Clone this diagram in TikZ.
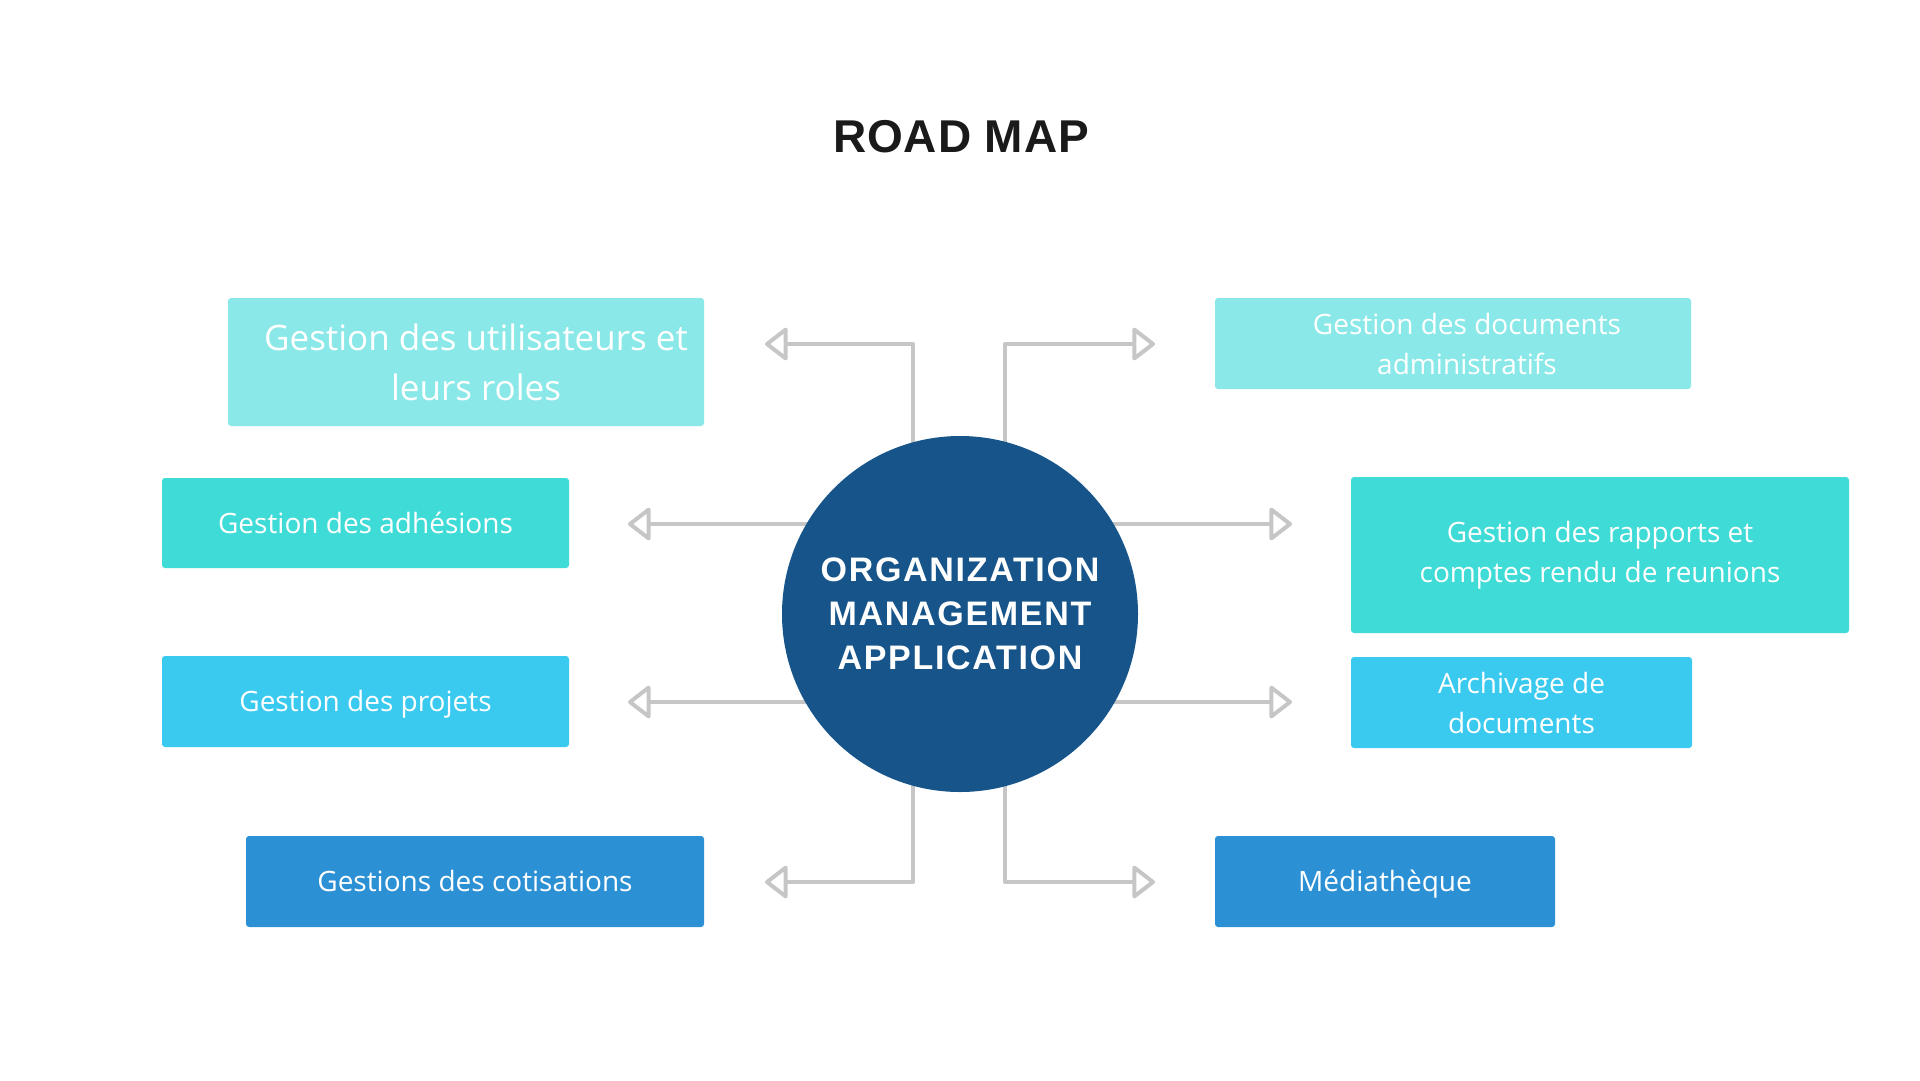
\documentclass[tikz,border=0pt]{standalone}
\usepackage{fontspec}
\setmainfont{Open Sans}
\newfontfamily\hubfont[LetterSpace=5]{Liberation Sans}
\newfontfamily\headfont[LetterSpace=2]{Liberation Sans}
\usetikzlibrary{arrows.meta,backgrounds}
\definecolor{paleaqua}{HTML}{8AE9E8}
\definecolor{aqua}{HTML}{3FDBD7}
\definecolor{skyblue}{HTML}{3AC9EF}
\definecolor{midblue}{HTML}{2C90D5}
\definecolor{hubblue}{HTML}{16548A}
\definecolor{linegray}{HTML}{C6C6C6}
\definecolor{headblack}{HTML}{1A1A1A}
\begin{document}
\begin{tikzpicture}[x=1pt,y=-1pt,
    box/.style={rectangle,rounded corners=3pt,inner sep=0pt,text=white,align=center,font=\fontsize{28}{40}\selectfont},
    oneline/.style={text height=20pt,text depth=0pt},
    link/.style={draw=linegray,line width=4pt,line join=round,-{Triangle[open,length=24pt,width=36pt,round]}}]
  \useasboundingbox (0,0) rectangle (1920,1080);
  \node[font=\headfont\bfseries\fontsize{46}{54}\selectfont,text=headblack] (title) at (961,137) {ROAD MAP};

  \node[circle,fill=hubblue,minimum size=356pt,inner sep=0pt,text=white,align=center,
        font=\hubfont\bfseries\fontsize{34}{44}\selectfont] (hub) at (960,614)
        {ORGANIZATION\\MANAGEMENT\\APPLICATION};

  \node[box,fill=paleaqua,minimum width=476pt,minimum height=128pt,font=\fontsize{35}{50}\selectfont] (users) at (466,362) {\hspace*{20pt}Gestion des utilisateurs et\\\hspace*{20pt}leurs roles};
  \node[box,oneline,fill=aqua,minimum width=407pt,minimum height=90pt] (members) at (365.5,523) {Gestion des adhésions};
  \node[box,oneline,fill=skyblue,minimum width=407pt,minimum height=91pt] (projects) at (365.5,701.5) {Gestion des projets};
  \node[box,oneline,fill=midblue,minimum width=458pt,minimum height=91pt] (fees) at (475,881.5) {Gestions des cotisations};

  \node[box,fill=paleaqua,minimum width=476pt,minimum height=91pt] (docs) at (1453,343.5) {\hspace*{28pt}Gestion des documents\\\hspace*{28pt}administratifs};
  \node[box,fill=aqua,minimum width=498pt,minimum height=156pt] (reports) at (1600,555) {Gestion des rapports et\\comptes rendu de reunions};
  \node[box,fill=skyblue,minimum width=341pt,minimum height=91pt] (archive) at (1521.5,702.5) {Archivage de\\documents};
  \node[box,oneline,fill=midblue,minimum width=340pt,minimum height=91pt] (media) at (1385,881.5) {Médiathèque};

  \coordinate (tusers) at (765,344);
  \coordinate (tdocs) at (1155,344);
  \coordinate (tmembers) at (628,524);
  \coordinate (treports) at (1292,524);
  \coordinate (tprojects) at (628,702);
  \coordinate (tarchive) at (1292,702);
  \coordinate (tfees) at (765,882);
  \coordinate (tmedia) at (1155,882);

  \begin{scope}[on background layer]
    \draw[link] ([xshift=-47pt]hub.center) |- (tusers);
    \draw[link] ([xshift=45pt]hub.center) |- (tdocs);
    \draw[link] (hub.center |- tmembers) -- (tmembers);
    \draw[link] (hub.center |- treports) -- (treports);
    \draw[link] (hub.center |- tprojects) -- (tprojects);
    \draw[link] (hub.center |- tarchive) -- (tarchive);
    \draw[link] ([xshift=-47pt]hub.center) |- (tfees);
    \draw[link] ([xshift=45pt]hub.center) |- (tmedia);
  \end{scope}
\end{tikzpicture}
\end{document}
